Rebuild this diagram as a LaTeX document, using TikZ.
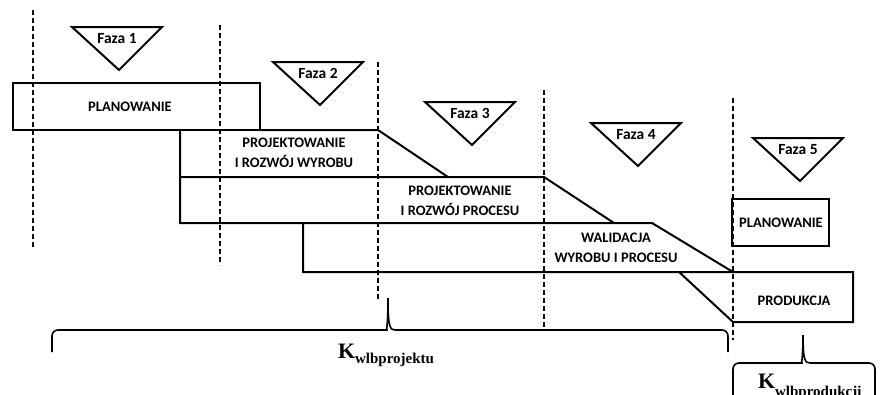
\documentclass[tikz,border=0pt]{standalone}
\usepackage{fontspec}
\setmainfont{Carlito}
\newfontfamily\serifK{Liberation Serif}
\usepackage{tikz}
\usetikzlibrary{calc}

% K with a lowered bold subscript
\newcommand{\Kmark}[2]{{\serifK\bfseries\fontsize{22}{22}\selectfont K}%
  \raisebox{-#1}{\serifK\bfseries\fontsize{15}{15}\selectfont #2}}

\begin{document}
\begin{tikzpicture}[x=1pt, y=-1pt, line width=2pt, line join=miter,
    box/.style={font=\bfseries\fontsize{14.5}{20}\selectfont, align=center,
      inner sep=0pt},
    phase/.style={font=\bfseries\fontsize{15.5}{18}\selectfont, anchor=base,
      inner sep=0pt},
    limit/.style={line width=1.7pt, dash pattern=on 5pt off 3pt}]

  \useasboundingbox (0,0) rectangle (884,394);

  %--- Phase boundaries (dashed) -------------------------------------------
  \foreach \x/\ya/\yb in {33/10/248, 220/25/265, 378/62/300,
                          544/90/330, 733/98/340}
    \draw[limit] (\x,\ya) -- (\x,\yb);

  %--- Phase triangles -----------------------------------------------------
  \foreach \n/\x/\y in {1/117/27, 2/318/62, 3/470/102, 4/636/123, 5/798/138}{
    \draw (\x-45,\y) -- (\x+45,\y) -- (\x+2,\y+43) -- cycle;
    \node[phase] (faza\n) at (\x,\y+16) {Faza \n};
  }

  %--- Stage outlines ------------------------------------------------------
  \draw (13,83) rectangle (260,130);                      % planowanie
  \draw (260,130) -- (378,130) -- (448,177);               % wyrob
  \draw (180,130) -- (180,223) -- (652,223) -- (733,272);  % proces
  \draw (180,177) -- (544,177) -- (614,223);
  \draw (303,223) -- (303,272) -- (853,272) -- (853,322)   % walidacja
        -- (733,322) -- (679,272);                         % produkcja
  \draw (732,199) rectangle (829,246);                     % planowanie (5)

  %--- Stage labels --------------------------------------------------------
  \node[box] (plan)  at (130,107) {PLANOWANIE};
  \node[box] (wyrob) at (294,153) {PROJEKTOWANIE\\I ROZWÓJ WYROBU};
  \node[box] (proc)  at (460,201) {PROJEKTOWANIE\\I ROZWÓJ PROCESU};
  \node[box] (wal)   at (616,248) {WALIDACJA\\WYROBU I PROCESU};
  \node[box] (plan5) at (781,223) {PLANOWANIE};
  \node[box] (prod)  at (794,301) {PRODUKCJA};

  %--- Braces --------------------------------------------------------------
  \draw[line width=1.6pt, rounded corners=6pt]
        (52,352) -- (52,330) -- (381,330) [sharp corners]
        .. controls (386,330) and (388,327) .. (388,298)
        .. controls (388,327) and (390,330) .. (395,330) [rounded corners=6pt]
        -- (728,330) -- (728,352);
  \draw[line width=1.6pt, rounded corners=6pt]
        (733,400) -- (733,363) -- (796,363) [sharp corners]
        .. controls (801,363) and (803,360) .. (803,335)
        .. controls (803,360) and (805,363) .. (810,363) [rounded corners=6pt]
        -- (875,363) -- (875,400);

  %--- Cost labels ---------------------------------------------------------
  \node[anchor=base west, inner sep=0pt] (kproj) at (337,358)
        {\Kmark{5pt}{wlbprojektu}};
  \node[anchor=base west, inner sep=0pt] (kprod) at (757,388)
        {\Kmark{8pt}{wlbprodukcji}};

\end{tikzpicture}
\end{document}
